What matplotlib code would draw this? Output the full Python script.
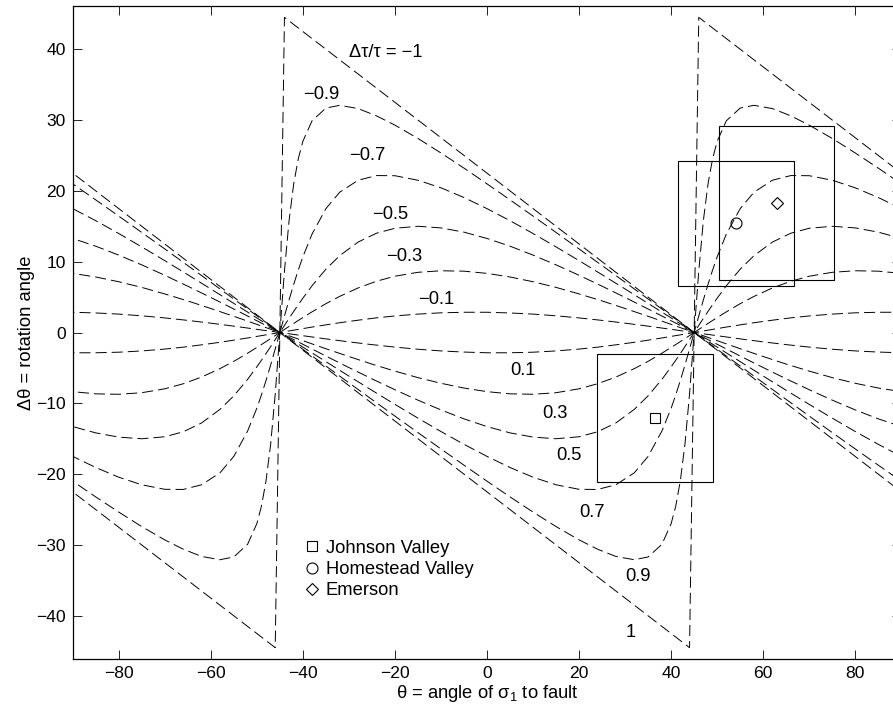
import numpy as np
import matplotlib
matplotlib.use('Agg')
import matplotlib.pyplot as plt
from matplotlib.patches import Rectangle

plt.rcParams['font.family'] = ['Liberation Sans', 'DejaVu Sans']
plt.rcParams['mathtext.fontset'] = 'custom'
plt.rcParams['mathtext.rm'] = 'Liberation Sans'
plt.rcParams['mathtext.it'] = 'Liberation Sans:italic'
plt.rcParams['mathtext.bf'] = 'Liberation Sans:bold'
plt.rcParams['lines.scale_dashes'] = False

# ---- data: one 90-degree period of each curve ----
PERIOD = 90.0
theta_grid_neg = [-45, -44, -43, -42, -41, -40, -38, -35, -32, -28, -24, -20, -15,
                  -10, -5, 0, 5, 10, 15, 20, 25, 30, 35, 40, 45]
theta_grid_pos = [-45, -40, -35, -30, -25, -20, -15, -10, -5, 0, 5, 10, 15, 20,
                  24, 28, 32, 35, 38, 40, 41, 42, 43, 44, 45]

theta_m10 = [-44, 45]
dtheta_m10 = [44.5, 0.0]
dtheta_m09 = [0, 8.67, 15.78, 20.94, 24.52, 26.99, 29.90, 31.69, 32.08, 31.62, 30.59, 29.28,
              27.40, 25.35, 23.21, 20.99, 18.73, 16.44, 14.13, 11.80, 9.45, 7.10, 4.73, 2.37, 0]
dtheta_m07 = [0, 2.32, 4.60, 6.77, 8.81, 10.69, 13.91, 17.49, 19.81, 21.50, 22.16, 22.14,
              21.50, 20.43, 19.06, 17.49, 15.79, 13.98, 12.09, 10.15, 8.16, 6.15, 4.11, 2.06, 0]
dtheta_m05 = [0, 1.00, 1.99, 2.97, 3.92, 4.85, 6.61, 8.94, 10.85, 12.77, 14.02, 14.72,
              15.00, 14.77, 14.17, 13.28, 12.19, 10.93, 9.55, 8.08, 6.54, 4.95, 3.32, 1.66, 0]
dtheta_m03 = [0, 0.43, 0.86, 1.28, 1.70, 2.11, 2.92, 4.07, 5.10, 6.29, 7.24, 7.95,
              8.50, 8.72, 8.66, 8.35, 7.84, 7.17, 6.37, 5.45, 4.46, 3.39, 2.29, 1.15, 0]
dtheta_m01 = [0, 0.11, 0.22, 0.33, 0.44, 0.55, 0.77, 1.08, 1.38, 1.74, 2.07, 2.34,
              2.60, 2.78, 2.86, 2.86, 2.76, 2.60, 2.36, 2.06, 1.71, 1.32, 0.90, 0.45, 0]
dtheta_p01 = [0, -0.45, -0.90, -1.32, -1.71, -2.06, -2.36, -2.60, -2.76, -2.86, -2.86, -2.78,
              -2.60, -2.34, -2.07, -1.74, -1.38, -1.08, -0.77, -0.55, -0.44, -0.33, -0.22, -0.11, 0]
dtheta_p03 = [0, -1.15, -2.29, -3.39, -4.46, -5.45, -6.37, -7.17, -7.84, -8.35, -8.66, -8.72,
              -8.50, -7.95, -7.24, -6.29, -5.10, -4.07, -2.92, -2.11, -1.70, -1.28, -0.86, -0.43, 0]
dtheta_p05 = [0, -1.66, -3.32, -4.95, -6.54, -8.08, -9.55, -10.93, -12.19, -13.28, -14.17, -14.77,
              -15.00, -14.72, -14.02, -12.77, -10.85, -8.94, -6.61, -4.85, -3.92, -2.97, -1.99, -1.00, 0]
dtheta_p07 = [0, -2.06, -4.11, -6.15, -8.16, -10.15, -12.09, -13.98, -15.79, -17.49, -19.06, -20.43,
              -21.50, -22.14, -22.16, -21.50, -19.81, -17.49, -13.91, -10.69, -8.81, -6.77, -4.60, -2.32, 0]
dtheta_p09 = [0, -2.37, -4.73, -7.10, -9.45, -11.80, -14.13, -16.44, -18.73, -20.99, -23.21, -25.35,
              -27.40, -29.28, -30.59, -31.62, -32.08, -31.69, -29.90, -26.99, -24.52, -20.94, -15.78, -8.67, 0]
theta_p10 = [-45, 44]
dtheta_p10 = [0.0, -44.5]

curve_labels = ['\u0394\u03c4/\u03c4 = \u22121', '\u22120.9', '\u22120.7', '\u22120.5', '\u22120.3',
                '\u22120.1', '0.1', '0.3', '0.5', '0.7', '0.9', '1']
label_x = [-30, -40, -30, -25, -22, -15, 5, 12, 15, 20, 30, 30.2]
label_y = [38.95, 33.0, 24.3, 16.0, 10.1, 4.05, -6.0, -12.1, -18.0, -26.0, -35.05, -43.0]

site_names = ['Johnson Valley', 'Homestead Valley', 'Emerson']
site_markers = ['s', 'o', 'D']
site_ms = [6.8, 7.9, 6.0]
site_theta = [36.55, 54.05, 62.9]
site_dtheta = [-12.05, 15.4, 18.25]
site_theta_err = [12.55, 12.65, 12.5]
site_dtheta_err = [9.05, 8.8, 10.85]
legend_marker_x = -38.0
legend_text_x = -35.0
legend_y = [-30.2, -33.3, -36.2]
legend_text_y = [-31.2, -34.1, -37.0]

curves = [
    (theta_m10, dtheta_m10), (theta_grid_neg, dtheta_m09), (theta_grid_neg, dtheta_m07),
    (theta_grid_neg, dtheta_m05), (theta_grid_neg, dtheta_m03), (theta_grid_neg, dtheta_m01),
    (theta_grid_pos, dtheta_p01), (theta_grid_pos, dtheta_p03), (theta_grid_pos, dtheta_p05),
    (theta_grid_pos, dtheta_p07), (theta_grid_pos, dtheta_p09), (theta_p10, dtheta_p10),
]


def periodic(th, v):
    th = np.asarray(th, float)
    v = np.asarray(v, float)
    xs = np.concatenate([th - PERIOD, th, th + PERIOD])
    ys = np.concatenate([v, v, v])
    return xs, ys


fig = plt.figure(figsize=(8.93, 7.08), dpi=100)
ax = fig.add_axes([0.0814, 0.0692, 0.9279, 0.9223])

dash = (0, (8, 3.6))
for th, v in curves:
    xs, ys = periodic(th, v)
    ax.plot(xs, ys, color='black', lw=0.7, linestyle=dash)

for txt, x, y in zip(curve_labels, label_x, label_y):
    ax.text(x, y, txt, ha='left', va='baseline', fontsize=13.2)

for name, m, ms, x, y, ex, ey, ly, lty in zip(site_names, site_markers, site_ms, site_theta,
                                               site_dtheta, site_theta_err, site_dtheta_err,
                                               legend_y, legend_text_y):
    ax.plot([x], [y], marker=m, ms=ms, mfc='none', mec='black', mew=0.8, ls='none')
    ax.add_patch(Rectangle((x - ex, y - ey), 2 * ex, 2 * ey, fill=False, ec='black', lw=0.8))
    ax.plot([legend_marker_x], [ly], marker=m, ms=ms, mfc='none', mec='black', mew=0.8, ls='none')
    ax.text(legend_text_x, lty, name, ha='left', va='baseline', fontsize=13.2)

ax.set_xlim(-90, 90)
ax.set_ylim(-46.1, 46.1)
ax.set_xticks(np.arange(-80, 81, 20))
ax.set_yticks(np.arange(-40, 41, 10))
ax.tick_params(direction='in', length=6.5, width=0.6, top=True, right=True, labelsize=12.6, pad=5)
for s in ax.spines.values():
    s.set_linewidth(0.9)

ax.set_xlabel('\u03b8 = angle of \u03c3$_1$ to fault', fontsize=13.2)
ax.set_ylabel('\u0394\u03b8 = rotation angle', fontsize=13.2)
ax.xaxis.set_label_coords(0.5, -0.036)
ax.yaxis.set_label_coords(-0.046, 0.5)

fig.savefig('out.png', dpi=100)
